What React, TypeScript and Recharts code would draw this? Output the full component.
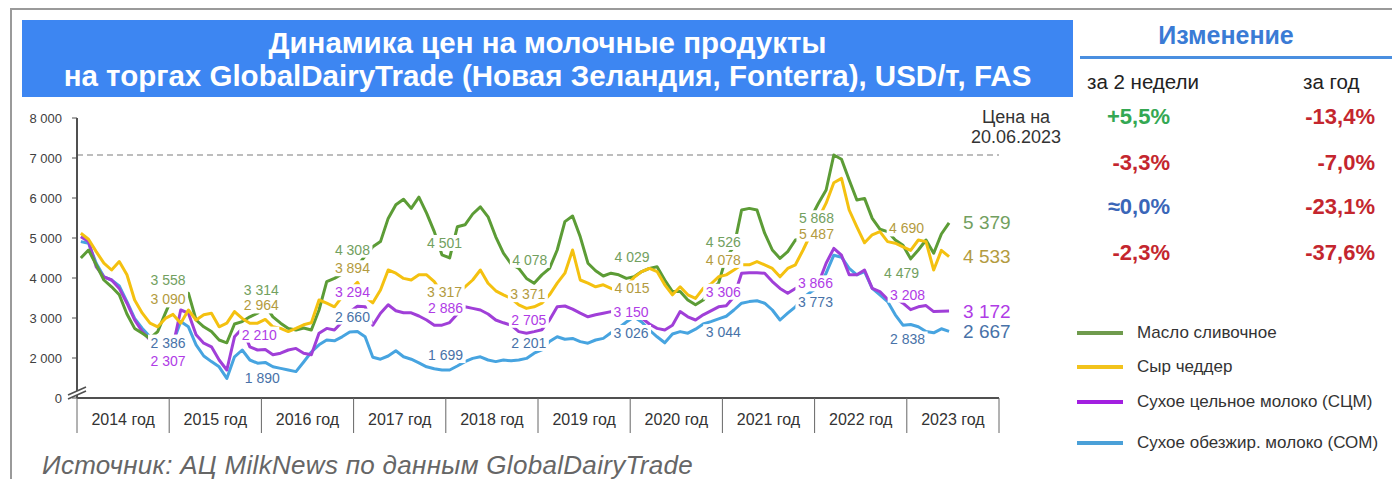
import React from "react";
import { LineChart, Line, XAxis, YAxis, ReferenceLine } from "recharts";

// GDT prices, USD/t, one point per month, Jan 2014 .. Jun 2023
const years = [2014, 2015, 2016, 2017, 2018, 2019, 2020, 2021, 2022, 2023];

const butter = [
  4500, 4700, 4330, 3950, 3780, 3580, 3100, 2740, 2620, 2490, 2660, 3120,
  3558, 3530, 3620, 2950, 2780, 2660, 2450, 2380, 2850, 2910, 3030, 3120,
  3314, 3030, 2870, 2740, 2700, 2750, 2700, 3200, 3910, 3990, 4100, 4200,
  4308, 4550, 4780, 4910, 5490, 5830, 5970, 5740, 6020, 5620, 5160, 4580,
  4501, 5280, 5330, 5600, 5780, 5530, 5030, 4620, 4350, 4240, 3990, 3870,
  4078, 4240, 4700, 5410, 5550, 5030, 4370, 4180, 4050, 4120, 4080, 3990,
  4029, 4160, 4240, 4280, 3950, 3660, 3660, 3450, 3330, 3450, 3700, 3870,
  4526, 4780, 5700, 5740, 5700, 5120, 4700, 4490, 4660, 4950, 4990, 5500,
  5868, 6200, 7075, 6970, 6450, 5950, 5990, 5490, 5220, 5160, 4950, 4820,
  4479, 4700, 4950, 4620, 5100, 5379,
];

const cheddar = [
  5120, 4970, 4660, 4370, 4200, 4410, 4080, 3450, 3120, 2870, 2780, 2990,
  3090, 2870, 3200, 2950, 3080, 3120, 2780, 2870, 3160, 2990, 2870, 2870,
  2964, 2780, 2740, 2660, 2740, 2830, 2880, 3450, 3370, 3280, 3530, 3700,
  3894, 3530, 3380, 3700, 4200, 4120, 3990, 3950, 4080, 4080, 3910, 3620,
  3317, 3600, 3780, 3950, 4200, 3870, 3680, 3580, 3490, 3330, 3240, 3280,
  3371, 3580, 3870, 4120, 4700, 3950, 3870, 3780, 3830, 3740, 3660, 3800,
  4015, 4160, 4240, 4160, 3830, 3580, 3780, 3580, 3490, 3740, 3850, 4030,
  4078, 4200, 4330, 4330, 4410, 4330, 4240, 4030, 4240, 4330, 4700, 5100,
  5487, 5870, 6380, 6490, 5700, 5280, 4880, 5080, 5160, 4910, 4870, 4780,
  4690, 4950, 4910, 4200, 4690, 4533,
];

const wmp = [
  5030, 4910, 4280, 4030, 3950, 3740, 3370, 2950, 2660, 2450, 2400, 2350,
  2307, 3200, 3120, 2580, 2370, 2280, 1950, 1700, 2530, 2740, 2280, 2200,
  2210, 2080, 2120, 2200, 2240, 2120, 2080, 2620, 2740, 2700, 2900, 3150,
  3294, 3280, 2820, 3120, 3330, 3180, 3130, 3130, 3050, 2950, 2820, 2820,
  2886, 3100, 3280, 3240, 3200, 3100, 2950, 2880, 2820, 2660, 2620, 2660,
  2705, 2950, 3280, 3300, 3220, 3120, 3030, 3080, 3120, 3160, 3150, 3150,
  3150, 3000, 2850, 2740, 2700, 2820, 3160, 3030, 2950, 3080, 3180, 3280,
  3306, 3530, 4120, 4130, 4130, 4120, 3910, 3740, 3620, 3740, 3800, 3830,
  3866, 4370, 4740, 4570, 4080, 4080, 4200, 3740, 3660, 3470, 3490, 3370,
  3208, 3280, 3310, 3160, 3170, 3172,
];

const smp = [
  4910, 4870, 4370, 4030, 3950, 3800, 3410, 2990, 2740, 2530, 2450, 2400,
  2386, 2910, 2780, 2330, 2050, 1910, 1780, 1490, 2030, 2200, 1950, 1870,
  1890, 1780, 1740, 1700, 1660, 1900, 2150, 2330, 2450, 2430, 2530, 2650,
  2660, 2530, 2020, 1970, 2050, 2180, 2030, 1970, 1880, 1780, 1730, 1700,
  1699, 1800, 1910, 1990, 2030, 1950, 1910, 1950, 1930, 1950, 1990, 2120,
  2201, 2410, 2530, 2470, 2490, 2410, 2370, 2450, 2490, 2630, 2750, 2900,
  3026, 2900, 2700, 2530, 2380, 2600, 2660, 2620, 2720, 2850, 2910, 2980,
  3044, 3200, 3370, 3410, 3430, 3370, 3200, 2950, 3120, 3280, 3500, 3650,
  3773, 4120, 4570, 4520, 4240, 4080, 4160, 3740, 3580, 3410, 3080, 2820,
  2838, 2780, 2660, 2630, 2730, 2667,
];

const yTicks = [1000, 2000, 3000, 4000, 5000, 6000, 7000, 8000];
const maxPrice = 7075;

const change2w = ["+5,5%", "-3,3%", "≈0,0%", "-2,3%"];
const change2wColors = ["#34a853", "#c4262e", "#3a66b8", "#c4262e"];
const changeYear = ["-13,4%", "-7,0%", "-23,1%", "-37,6%"];

// label shift from the point (dx, dy) for each January 2015..2023
const series = [
  {
    key: "butter", name: "Масло сливочное", color: "#5c9c36", labelColor: "#72a060", legendColor: "#6f9b4d",
    shift: [[-5, -16], [-4, -15], [-5, -16], [-5, -15], [-12, -15], [-2, -20], [-3, -15], [-2, 15], [-9, 14]],
  },
  {
    key: "cheddar", name: "Сыр чеддер", color: "#f4c110", labelColor: "#b39b40", legendColor: "#f2c31c",
    shift: [[-5, -15], [-4, -14], [-5, -14], [-5, -13], [-14, -9], [-2, 11], [-3, -15], [-2, 15], [-4, -22]],
  },
  {
    key: "wmp", name: "Сухое цельное молоко (СЦМ)", color: "#a03fd8", labelColor: "#b03ce6", legendColor: "#a21fe0",
    shift: [[-5, 15], [-6, -15], [-5, -14], [-4, -15], [-13, -10], [-3, 0], [-3, -14], [-3, 0], [-3, -15]],
  },
  {
    key: "smp", name: "Сухое обезжир. молоко (СОМ)", color: "#47a4e0", labelColor: "#4872a8", legendColor: "#4aa0d8",
    shift: [[-5, 0], [-3, 16], [-5, -15], [-4, -15], [-13, -7], [-3, 16], [-3, 16], [-3, 15], [-3, 15]],
  },
];

const data = butter.map((b, i) => ({
  t: i + 0.5,
  butter: b,
  cheddar: cheddar[i],
  wmp: wmp[i],
  smp: smp[i],
}));

const xTicks = years.flatMap((_, k) => [k * 12, k * 12 + 6]).concat(years.length * 12);

const fmt = (v: number) => String(v).replace(/\B(?=(\d{3})+(?!\d))/g, " ");

const FONT = "'Liberation Sans', Arial, sans-serif";

const XTick = (props: any) => {
  const { x, y, payload } = props;
  const v = payload.value as number;
  if (v % 12 === 0) {
    return <line x1={x} y1={y} x2={x} y2={y + 35} stroke="#666" strokeWidth={1} />;
  }
  const year = years[Math.floor(v / 12)];
  return (
    <text x={x} y={y + 21} textAnchor="middle" dominantBaseline="central" fontSize={16} fill="#333">
      {year} год
    </text>
  );
};

const YTick = (props: any) => {
  const { x, y, payload } = props;
  const v = payload.value as number;
  const ax = x + 15;
  return (
    <g>
      <text x={x} y={y} textAnchor="end" dominantBaseline="central" fontSize={13} fill="#404040">
        {v === 1000 ? "0" : fmt(v)}
      </text>
      {v === 1000 && (
        <g>
          <polygon points={`${ax - 9},${y - 3} ${ax + 9},${y - 11} ${ax + 9},${y - 7} ${ax - 9},${y + 1}`} fill="#fff" />
          <line x1={ax - 9} y1={y - 3} x2={ax + 9} y2={y - 11} stroke="#505050" strokeWidth={1.5} />
          <line x1={ax - 9} y1={y + 1} x2={ax + 9} y2={y - 7} stroke="#505050" strokeWidth={1.5} />
        </g>
      )}
    </g>
  );
};

const labelDot = (s: (typeof series)[number]) => (props: any) => {
  const { cx, cy, index, payload } = props;
  const v = payload[s.key] as number;
  if (index === data.length - 1) {
    return (
      <text key={`e-${s.key}`} x={cx + 14} y={cy} dominantBaseline="central" fontSize={19} fill={s.labelColor}>
        {fmt(v)}
      </text>
    );
  }
  if (index === 0 || index % 12 !== 0) return <g key={`n-${s.key}-${index}`} />;
  const [dx, dy] = s.shift[index / 12 - 1];
  const lx = cx + dx;
  const ly = cy + dy;
  return (
    <g key={`l-${s.key}-${index}`}>
      <rect x={lx - 20} y={ly - 8} width={40} height={16} fill="#fff" />
      <text x={lx} y={ly} textAnchor="middle" dominantBaseline="central" fontSize={14} fill={s.labelColor}>
        {fmt(v)}
      </text>
    </g>
  );
};

export default function App() {
  return (
    <div
      style={{
        position: "absolute",
        left: 0,
        top: 0,
        width: 1392,
        height: 479,
        overflow: "hidden",
        background: "#fff",
        fontFamily: FONT,
      }}
    >
      <div
        style={{
          position: "absolute",
          left: 10,
          top: 8,
          width: 1400,
          height: 490,
          border: "2px solid #9a9a9a",
        }}
      />
      <div
        style={{
          position: "absolute",
          left: 22,
          top: 20,
          width: 1051,
          height: 77,
          background: "#3d86f2",
          color: "#fff",
          fontWeight: "bold",
          fontSize: 29.5,
          lineHeight: "33px",
          textAlign: "center",
          display: "flex",
          flexDirection: "column",
          justifyContent: "center",
        }}
      >
        <div>Динамика цен на молочные продукты</div>
        <div>на торгах GlobalDairyTrade (Новая Зеландия, Fonterra), USD/т, FAS</div>
      </div>

      <div style={{ position: "absolute", left: 0, top: 100 }}>
        <LineChart width={1060} height={350} data={data} margin={{ top: 18, right: 61, bottom: 2, left: 0 }}>
          <XAxis
            type="number"
            dataKey="t"
            domain={[0, 120]}
            ticks={xTicks}
            interval={0}
            tickLine={false}
            tickSize={0}
            tickMargin={0}
            height={50}
            axisLine={{ stroke: "#505050", strokeWidth: 2 }}
            tick={<XTick />}
          />
          <YAxis
            type="number"
            domain={[1000, 8000]}
            ticks={yTicks}
            interval={0}
            width={77}
            tickSize={5}
            tickMargin={10}
            axisLine={{ stroke: "#505050", strokeWidth: 2 }}
            tickLine={{ stroke: "#505050" }}
            tick={<YTick />}
          />
          <ReferenceLine y={maxPrice} stroke="#a8a8a8" strokeWidth={1.5} strokeDasharray="6 4" />
          {[series[3], series[2], series[0], series[1]].map((s) => (
            <Line
              key={s.key}
              dataKey={s.key}
              type="linear"
              stroke={s.color}
              strokeWidth={3}
              strokeLinejoin="round"
              dot={false}
              activeDot={false}
              isAnimationActive={false}
            />
          ))}
          {series.map((s) => (
            <Line
              key={`lbl-${s.key}`}
              dataKey={s.key}
              stroke="none"
              dot={labelDot(s)}
              activeDot={false}
              legendType="none"
              isAnimationActive={false}
            />
          ))}
        </LineChart>
      </div>

      <div
        style={{
          position: "absolute",
          left: 966,
          top: 107,
          width: 100,
          textAlign: "center",
          fontSize: 18,
          lineHeight: "20px",
          color: "#333",
        }}
      >
        Цена на
        <br />
        20.06.2023
      </div>

      <div
        style={{
          position: "absolute",
          left: 1075,
          top: 20,
          width: 302,
          textAlign: "center",
          fontSize: 25,
          fontWeight: "bold",
          lineHeight: "30px",
          color: "#3a7bd5",
        }}
      >
        Изменение
      </div>
      <div style={{ position: "absolute", left: 1080, top: 56, width: 312, height: 3, background: "#4a8fe0" }} />
      <div style={{ position: "absolute", left: 1087, top: 70, fontSize: 20.5, lineHeight: "24px", color: "#222" }}>
        за 2 недели
      </div>
      <div style={{ position: "absolute", left: 1303, top: 70, fontSize: 20.5, lineHeight: "24px", color: "#222" }}>
        за год
      </div>
      {[117, 163, 207, 253].map((cy, i) => (
        <React.Fragment key={i}>
          <div
            style={{
              position: "absolute",
              left: 1070,
              width: 100,
              top: cy - 13,
              textAlign: "right",
              fontSize: 22,
              lineHeight: "26px",
              fontWeight: "bold",
              color: change2wColors[i],
            }}
          >
            {change2w[i]}
          </div>
          <div
            style={{
              position: "absolute",
              left: 1275,
              width: 100,
              top: cy - 13,
              textAlign: "right",
              fontSize: 22,
              lineHeight: "26px",
              fontWeight: "bold",
              color: "#c4262e",
            }}
          >
            {changeYear[i]}
          </div>
        </React.Fragment>
      ))}

      {series.map((s, i) => {
        const cy = [333, 367, 402, 443][i];
        return (
          <React.Fragment key={s.key}>
            <div
              style={{ position: "absolute", left: 1077, top: cy - 2, width: 46, height: 4, background: s.legendColor }}
            />
            <div
              style={{
                position: "absolute",
                left: 1137,
                top: cy - 10,
                fontSize: 17,
                lineHeight: "20px",
                color: "#333",
                whiteSpace: "nowrap",
              }}
            >
              {s.name}
            </div>
          </React.Fragment>
        );
      })}

      <div
        style={{
          position: "absolute",
          left: 42,
          top: 450,
          fontSize: 26,
          letterSpacing: 0.3,
          lineHeight: "30px",
          fontStyle: "italic",
          color: "#666",
          whiteSpace: "nowrap",
        }}
      >
        Источник: АЦ MilkNews по данным GlobalDairyTrade
      </div>
    </div>
  );
}
